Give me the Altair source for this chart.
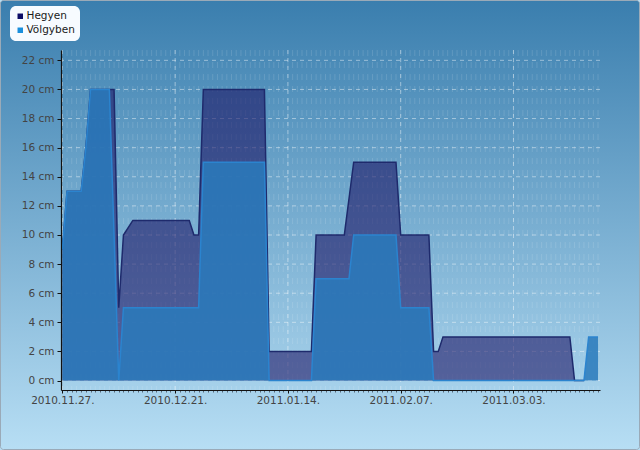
import altair as alt
import pandas as pd

# ---------------- data ----------------
START = "2010-11-27"
SERIES = ["Hegyen", "Völgyben"]

# daily snow depth (cm), one value per day from START; None = no reading
hegyen = [9, 13, 13, 13, 13, 16, 20, 20, 20, 20, 20,
          20, 5, 10, None,
          11, 11, 11, 11, 11, 11, 11, 11, 11, 11, 11, 11, 11,
          10, 10,
          20, 20, 20, 20, 20, 20, 20, 20, 20, 20, 20, 20, 20, 20,
          2, 2, 2, 2, 2, 2, 2, 2, 2, 2,
          10, 10, 10, 10, 10, 10, 10,
          None,
          15, 15, 15, 15, 15, 15, 15, 15, 15, 15,
          10, 10, 10, 10, 10, 10, 10,
          2, 2,
          3, 3, 3, 3, 3, 3, 3, 3, 3, 3, 3, 3, 3, 3,
          3, 3, 3, 3, 3, 3, 3, 3, 3, 3, 3, 3, 3, 3,
          0, 0, 0]

volgyben = [9, 13, 13, 13, 13, 16, 20, 20, 20, 20, 20,
            10, 0,
            5, 5, 5, 5, 5, 5, 5, 5, 5, 5, 5, 5, 5, 5, 5, 5, 5,
            15, 15, 15, 15, 15, 15, 15, 15, 15, 15, 15, 15, 15, 15,
            0, 0, 0, 0, 0, 0, 0, 0, 0, 0,
            7, 7, 7, 7, 7, 7, 7, 7,
            10, 10, 10, 10, 10, 10, 10, 10, 10, 10,
            5, 5, 5, 5, 5, 5, 5,
            0, 0, 0, 0, 0, 0, 0, 0, 0, 0, 0, 0, 0, 0, 0, 0, 0,
            0, 0, 0, 0, 0, 0, 0, 0, 0, 0, 0, 0, 0, 0, 0, 0,
            3, 3, 3]

y_ticks = [0, 2, 4, 6, 8, 10, 12, 14, 16, 18, 20, 22]
major_ticks = ["2010-11-27", "2010-12-21", "2011-01-14", "2011-02-07", "2011-03-03"]

# ---------------- tables ----------------
days = pd.date_range(START, periods=len(volgyben), freq="D")


def frame(name, vals):
    rows = [{"date": d.strftime("%Y-%m-%d"), "cm": v, "series": name}
            for d, v in zip(days, vals) if v is not None]
    return pd.DataFrame(rows)


df_h = frame(SERIES[0], hegyen)
df_v = frame(SERIES[1], volgyben)
df_days = pd.DataFrame({"date": [d.strftime("%Y-%m-%d") for d in days]})
df_major = pd.DataFrame({"date": major_ticks})
df_y = pd.DataFrame({"v": y_ticks})

start_ms = int(pd.Timestamp(START).value // 10**6)
period_ms = 24 * 86400000
day_ms = [int(d.value // 10**6) for d in days]
is_major = f"(datum.value - {start_ms}) % {period_ms} === 0"

FONT = "DejaVu Sans"

xscale = alt.Scale(
    type="utc",
    domain=[alt.DateTime(year=2010, month=11, date=26, hours=17, utc=True),
            alt.DateTime(year=2011, month=3, date=21, hours=10, utc=True)],
    nice=False,
)
yscale = alt.Scale(domain=[-0.65, 22.71], nice=False, zero=False)

xaxis = alt.Axis(
    values=day_ms,
    title=None,
    grid=False,
    zindex=2,
    domainColor="#111111",
    domainWidth=1.2,
    tickSize={"condition": {"test": is_major, "value": 3}, "value": 2},
    tickColor={"condition": {"test": is_major, "value": "#111111"}, "value": "#556677"},
    tickWidth=1,
    labelExpr=f"{is_major} ? utcFormat(datum.value, '%Y.%m.%d.') : ''",
    labelOverlap=False,
    labelFlush=False,
    labelFont=FONT,
    labelFontSize=10.5,
    labelColor="#444444",
    labelPadding=2,
)
yaxis = alt.Axis(
    values=y_ticks,
    title=None,
    grid=False,
    zindex=2,
    labelExpr="datum.value + ' cm'",
    domainColor="#111111",
    domainWidth=1.2,
    tickSize=4,
    tickColor="#111111",
    labelFont=FONT,
    labelFontSize=10.5,
    labelColor="#444444",
    labelPadding=3,
)

X = alt.X("date:T", scale=xscale, axis=xaxis)
Y = alt.Y("cm:Q", scale=yscale, axis=yaxis)

# ---------------- layers ----------------
bg = alt.Chart(pd.DataFrame({"k": [0]})).mark_rect(
    fill=alt.Gradient(
        gradient="linear",
        stops=[alt.GradientStop(color="#3a7eae", offset=0),
               alt.GradientStop(color="#b7def4", offset=1)],
        x1=0, x2=0, y1=0, y2=1,
    ),
    stroke="#9aaab8",
    strokeWidth=1,
    cornerRadius=3,
).encode(x=alt.value(-60.5), x2=alt.value(578.5), y=alt.value(-49.5), y2=alt.value(399.5))

minor_grid = alt.Chart(df_days).mark_rule(
    color="white", opacity=0.13, strokeDash=[6, 6], strokeWidth=1
).encode(x=X)

major_grid = alt.Chart(df_major).mark_rule(
    color="white", opacity=0.45, strokeDash=[4, 4], strokeWidth=1
).encode(x=X)

h_grid = alt.Chart(df_y).mark_rule(
    color="white", opacity=0.45, strokeDash=[4, 4], strokeWidth=1
).encode(y=alt.Y("v:Q", scale=yscale, axis=yaxis))

area_h = alt.Chart(df_h).mark_area(
    fill="#191162", fillOpacity=0.58, interpolate="linear"
).encode(x=X, y=Y)
line_h = alt.Chart(df_h).mark_line(
    color="#1e2a6c", strokeWidth=1.5, interpolate="linear"
).encode(x=X, y=Y)
area_v = alt.Chart(df_v).mark_area(
    fill="#2a7abc", fillOpacity=0.86, interpolate="linear"
).encode(x=X, y=Y)
line_v = alt.Chart(df_v).mark_line(
    color="#2b84cf", strokeWidth=1.5, interpolate="linear"
).encode(x=X, y=Y)

legend_layer = alt.Chart(pd.DataFrame({"series": SERIES})).mark_square(
    opacity=0, size=30
).encode(
    fill=alt.Fill(
        "series:N",
        scale=alt.Scale(domain=SERIES, range=["#0c0c66", "#1a8fdc"]),
        legend=alt.Legend(
            title=None,
            orient="none",
            legendX=-51,
            legendY=-44,
            fillColor="#f7fbff",
            cornerRadius=6,
            padding=5,
            symbolType="square",
            symbolSize=30,
            symbolOpacity=1,
            symbolStrokeWidth=0,
            labelFont=FONT,
            labelFontSize=10.5,
            labelColor="#1a1a1a",
            labelOffset=1,
            rowPadding=3,
        ),
    )
)

chart = alt.layer(
    bg, minor_grid, major_grid, h_grid, area_h, line_h, area_v, line_v, legend_layer
).properties(
    width=539, height=340, padding=0
).configure_view(
    stroke=None
).configure(
    font=FONT, background="#b7def4"
)

chart.save("out.html", embed_options={"renderer": "svg", "actions": False})
